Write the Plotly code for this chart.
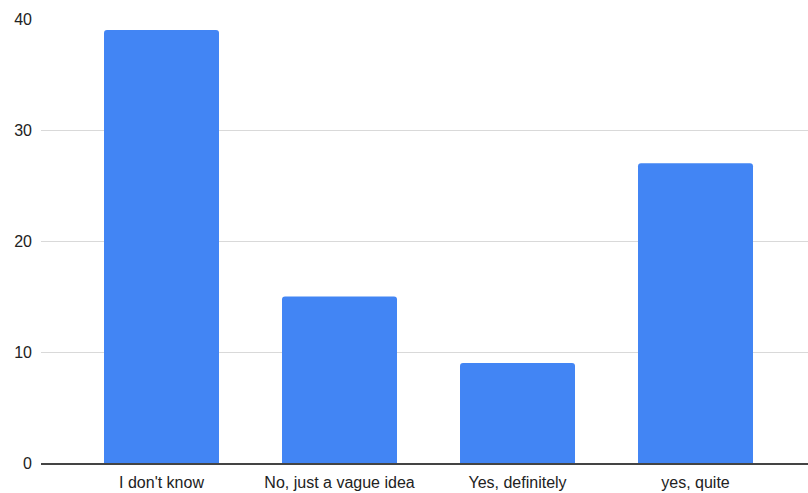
import plotly.graph_objects as go

categories = ["I don't know", "No, just a vague idea", "Yes, definitely", "yes, quite"]
counts = [39, 15, 9, 27]
y_ticks = [0, 10, 20, 30, 40]

fig = go.Figure(
    go.Bar(
        x=categories,
        y=counts,
        marker=dict(color="#4285F4", cornerradius=3, line=dict(width=0)),
        hoverinfo="x+y",
    )
)

fig.update_layout(
    width=808,
    height=493,
    margin=dict(l=41, r=0, t=19, b=30),
    paper_bgcolor="white",
    plot_bgcolor="white",
    bargap=0.354,
    showlegend=False,
    font=dict(family="Liberation Sans, Arial, sans-serif", size=16, color="#222222"),
)

fig.update_xaxes(
    type="category",
    range=[-0.677, 3.632],
    showline=True,
    linecolor="#444444",
    linewidth=1.5,
    showgrid=False,
    ticks="",
    ticklabelstandoff=4,
    tickfont=dict(size=16, color="#222222"),
)

fig.update_yaxes(
    range=[0, 40],
    tickvals=y_ticks,
    showgrid=True,
    gridcolor="#D9D9D9",
    gridwidth=1,
    zeroline=False,
    showline=False,
    ticks="",
    ticklabelstandoff=8,
    tickfont=dict(size=16, color="#222222"),
)

fig.write_html("out.html")
